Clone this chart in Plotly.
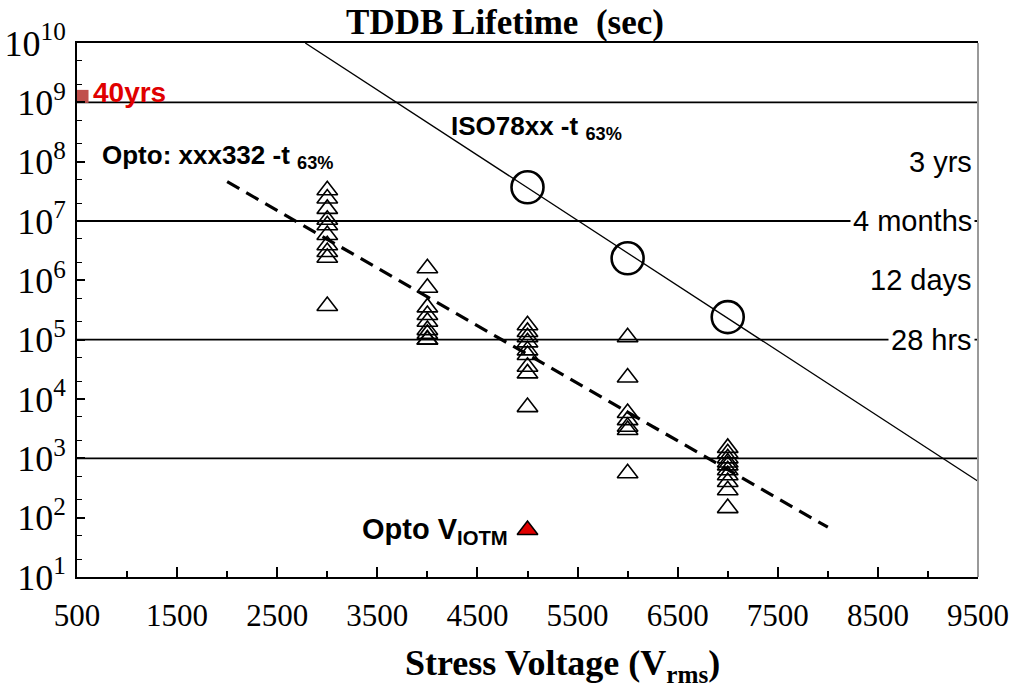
import math
import plotly.graph_objects as go

# ---- data ----
opto_v = [3000]*10 + [4000]*9 + [5000]*9 + [6000]*7 + [7000]*10
opto_t = [3.3e7, 2.4e7, 1.6e7, 1.05e7, 8.5e6, 5.8e6, 3.9e6, 3.0e6, 2.4e6, 3.7e5,
          1.6e6, 7.5e5, 3.5e5, 2.6e5, 2.0e5, 1.45e5, 1.25e5, 1.0e5, 1.0e5,
          1.75e5, 1.35e5, 1.1e5, 9.0e4, 6.6e4, 5.5e4, 3.5e4, 2.7e4, 7.3e3,
          1.1e5, 2.3e4, 5.8e3, 4.4e3, 3.4e3, 3.0e3, 5.6e2,
          1.5e3, 1.22e3, 1.0e3, 8.5e2, 7.6e2, 6.3e2, 5.2e2, 4.0e2, 2.9e2, 1.45e2]

iso_v = [5000, 6000, 7000]
iso_t = [3.7e7, 2.35e6, 2.4e5]

opto_fit_v = [2000, 8000]
opto_fit_t = [4.6e7, 69]

iso_fit_v = [2780, 9500]
iso_fit_t = [1.0e10, 4.1e2]

viotm_v = [5000]
viotm_t = [62]

life_40yrs = 1.26e9
ref_lines = [1e9, 1e7, 1e5, 1e3]
right_labels = ["3 yrs", "4 months", "12 days", "28 hrs"]
right_label_y = [1e8, 1e7, 1e6, 1e5]

y_tickvals = [10**k for k in range(1, 11)]
y_ticktext = ["10<sup>%d</sup>" % k for k in range(1, 11)]

fig = go.Figure()

for yv in ref_lines:
    fig.add_shape(type="line", xref="paper", x0=0, x1=1, yref="y", y0=yv, y1=yv,
                  line=dict(color="black", width=1.8), layer="below")

fig.add_trace(go.Scatter(x=iso_fit_v, y=iso_fit_t, mode="lines",
                         line=dict(color="black", width=1.3), showlegend=False))
fig.add_trace(go.Scatter(x=opto_fit_v, y=opto_fit_t, mode="lines",
                         line=dict(color="black", width=3.2, dash="14px,8px"), showlegend=False))
fig.add_trace(go.Scatter(x=opto_v, y=opto_t, mode="markers",
                         marker=dict(symbol="triangle-up-open", size=18, color="black",
                                     line=dict(width=1.6, color="black")), showlegend=False))
fig.add_trace(go.Scatter(x=iso_v, y=iso_t, mode="markers",
                         marker=dict(symbol="circle-open", size=32, color="black",
                                     line=dict(width=2.6, color="black")), showlegend=False))
fig.add_trace(go.Scatter(x=viotm_v, y=viotm_t, mode="markers",
                         marker=dict(symbol="triangle-up", size=18, color="#e00000",
                                     line=dict(width=1.5, color="black")), showlegend=False))
fig.add_trace(go.Scatter(x=[550], y=[life_40yrs], mode="markers", cliponaxis=False,
                         marker=dict(symbol="square", size=13, color="#c0504d"),
                         showlegend=False))

# right border in gray
fig.add_shape(type="line", xref="paper", yref="paper", x0=1, x1=1, y0=0, y1=1,
              line=dict(color="#999999", width=2))

for txt, yv in zip(right_labels, right_label_y):
    fig.add_annotation(x=0.9965, xref="paper", xanchor="right", y=math.log10(yv), yref="y",
                       text=txt, showarrow=False, bgcolor="white", borderpad=2,
                       font=dict(family="Arial, Liberation Sans", size=29, color="black"))

fig.add_annotation(x=640, y=9.17, xanchor="left", text="<b>40yrs</b>",
                   showarrow=False, font=dict(family="Arial, Liberation Sans", size=28, color="#e00000"))
fig.add_annotation(x=730, y=8.08, xanchor="left", text="<b>Opto: xxx332 -t <sub>63%</sub></b>",
                   showarrow=False, font=dict(family="Arial, Liberation Sans", size=26, color="black"))
fig.add_annotation(x=4220, y=8.58, xanchor="left", text="<b>ISO78xx -t <sub>63%</sub></b>",
                   showarrow=False, font=dict(family="Arial, Liberation Sans", size=26, color="black"))
fig.add_annotation(x=4830, y=1.78, xanchor="right", text="<b>Opto V<sub>IOTM</sub></b>",
                   showarrow=False, font=dict(family="Arial, Liberation Sans", size=29, color="black"))

# x axis title
fig.add_annotation(x=0.539, xref="paper", y=-0.165, yref="paper", xanchor="center", yanchor="middle",
                   text="<b>Stress Voltage (V<sub>rms</sub>)</b>", showarrow=False,
                   font=dict(family="Liberation Serif, Times New Roman", size=36, color="black"))

fig.update_layout(
    width=1013, height=689,
    margin=dict(l=77, r=35, t=43, b=112),
    paper_bgcolor="white", plot_bgcolor="white",
    title=dict(text="<b>TDDB Lifetime  (sec)</b>", x=0.4985, xanchor="center",
               y=0.968, yanchor="middle",
               font=dict(family="Liberation Serif, Times New Roman", size=35, color="black")),
    xaxis=dict(range=[500, 9500], tick0=500, dtick=1000, showgrid=False, zeroline=False,
               automargin=False,
               ticks="inside", ticklen=10, tickwidth=1.5, tickcolor="black",
               showline=True, linecolor="black", linewidth=2, mirror=True,
               minor=dict(ticks="inside", ticklen=6, tickwidth=1.5, tickcolor="black", dtick=500, tick0=500),
               tickfont=dict(family="Liberation Serif, Times New Roman", size=31, color="black"),
               ticklabelstandoff=10),
    yaxis=dict(type="log", range=[1, 10], tickmode="array", tickvals=y_tickvals, ticktext=y_ticktext,
               showgrid=False, automargin=False,
               zeroline=False, ticks="inside", ticklen=8, tickwidth=1.5, tickcolor="black",
               showline=True, linecolor="black", linewidth=2,
               minor=dict(ticks="inside", ticklen=5, tickwidth=1.2, tickcolor="black"),
               tickfont=dict(family="Liberation Serif, Times New Roman", size=36, color="black"),
               ticklabelstandoff=2),
)

fig.write_html("out.html")
